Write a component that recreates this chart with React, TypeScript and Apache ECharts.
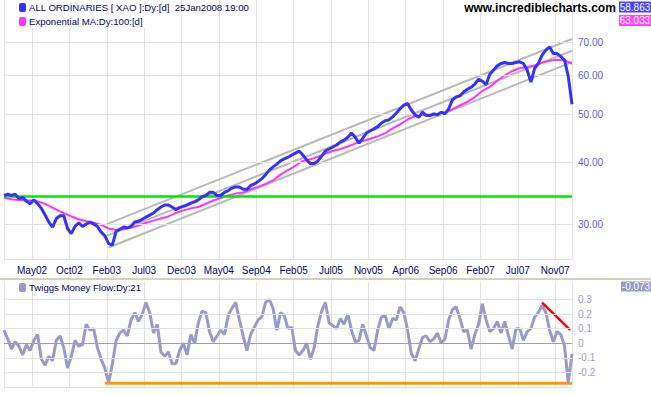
import React, { useEffect, useRef } from 'react';
import * as echarts from 'echarts';

// ---- axis / calendar (weekly trading-bar index) ----
const TICK_LABELS = ['May02', 'Oct02', 'Feb03', 'Jul03', 'Dec03', 'May04', 'Sep04', 'Feb05', 'Jul05', 'Nov05', 'Apr06', 'Sep06', 'Feb07', 'Jul07', 'Nov07'];
const WEEKS = 305;
const FIRST_TICK_WEEK = 15;
const TICK_STEP_WEEKS = 20;

// ---- ALL ORDINARIES (x1000), one value every 2 weeks ----
const PRICE_STEP = 2;
const PRICE = [
  34.3, 34.5, 34.3, 34.5, 33.8, 34.0, 33.4, 33.0, 33.6, 33.0,
  32.3, 31.3, 30.3, 29.6, 30.8, 31.2, 31.2, 29.4, 28.7, 29.7,
  30.2, 29.7, 30.0, 30.3, 30.0, 29.7, 28.9, 28.4, 27.4, 27.2,
  29.0, 29.3, 29.6, 29.5, 29.7, 30.3, 30.4, 30.7, 31.0, 31.3,
  31.6, 32.1, 32.5, 32.8, 32.8, 32.5, 32.1, 32.4, 32.6, 32.8,
  33.1, 33.3, 33.6, 34.1, 34.3, 34.8, 34.8, 34.3, 34.3, 34.8,
  35.1, 35.5, 35.7, 35.7, 35.3, 35.3, 35.9, 36.2, 36.6, 37.1,
  37.8, 38.6, 39.2, 39.7, 40.3, 40.7, 41.0, 41.4, 41.8, 42.2,
  41.4, 40.5, 39.8, 39.8, 40.3, 41.2, 42.2, 42.6, 43.0, 43.4,
  44.0, 44.4, 45.0, 45.9, 45.0, 43.8, 44.8, 45.9, 46.4, 46.8,
  47.3, 48.1, 48.6, 48.8, 49.5, 50.4, 51.4, 52.3, 52.7, 51.1,
  50.0, 49.4, 50.6, 49.8, 49.8, 50.2, 50.0, 50.6, 50.2, 51.4,
  53.6, 54.3, 54.6, 55.6, 56.3, 56.8, 57.7, 59.0, 58.5, 57.5,
  60.4, 61.6, 62.8, 63.5, 63.8, 63.5, 63.5, 63.8, 64.0, 63.5,
  61.6, 58.2, 62.1, 63.5, 66.0, 67.6, 68.6, 66.5, 66.5, 65.6,
  64.5, 59.8, 52.5,
];

// ---- Exponential MA 100, one value every 4 weeks ----
const MA_STEP = 4;
const MA100 = [
  33.9, 33.7, 33.6, 33.5, 33.5, 33.2, 32.7, 32.1, 31.6, 31.1,
  30.7, 30.4, 30.2, 29.9, 29.4, 29.2, 29.3, 29.5, 29.8, 30.2,
  30.5, 30.8, 31.1, 31.6, 32.0, 32.3, 32.5, 33.0, 33.5, 33.9,
  34.3, 34.6, 34.8, 35.3, 35.7, 36.2, 36.8, 37.8, 38.6, 39.4,
  40.3, 40.6, 41.1, 41.7, 42.2, 42.6, 43.1, 43.7, 44.2, 44.7,
  45.2, 45.9, 46.9, 47.8, 48.9, 49.7, 50.0, 50.0, 50.0, 50.6,
  51.3, 52.2, 53.1, 54.3, 55.9, 56.9, 58.6, 60.1, 61.3, 62.1,
  62.5, 62.9, 63.7, 64.3, 64.6, 64.4, 63.5,
];

// ---- Twiggs Money Flow 21, one value every 2 weeks ----
const TMF_STEP = 2;
const TMF = [
  0.09, 0.03, -0.04, 0.01, -0.02, -0.08, -0.01, -0.05, 0.02, 0.06,
  -0.11, -0.15, -0.09, -0.12, 0.02, 0.05, -0.03, -0.17, -0.09, 0.02,
  -0.02, -0.01, 0.13, 0.09, 0.10, -0.03, -0.11, -0.17, -0.27, -0.14,
  0.02, 0.07, 0.09, 0.05, 0.16, 0.21, 0.15, 0.20, 0.28, 0.21,
  0.07, 0.13, -0.06, -0.09, -0.06, -0.14, -0.14, -0.05, 0.00, -0.08,
  0.06, 0.00, 0.14, 0.22, 0.21, 0.08, 0.01, 0.05, 0.09, 0.06,
  0.19, 0.24, 0.28, 0.16, 0.05, -0.05, 0.06, 0.11, 0.16, 0.18,
  0.28, 0.30, 0.24, 0.09, 0.21, 0.19, 0.10, 0.11, -0.05, -0.08,
  -0.05, 0.00, -0.11, -0.03, 0.12, 0.22, 0.28, 0.14, 0.12, 0.10,
  0.17, 0.13, 0.20, 0.09, 0.01, 0.02, 0.13, 0.05, -0.03, -0.05,
  0.09, 0.18, 0.19, 0.10, 0.17, 0.16, 0.25, 0.21, 0.09, -0.07,
  -0.12, -0.04, 0.04, 0.05, 0.01, 0.03, 0.07, 0.00, 0.03, 0.16,
  0.23, 0.25, 0.17, 0.08, 0.09, -0.04, 0.06, 0.13, 0.27, 0.16,
  0.08, 0.10, 0.15, 0.07, 0.15, 0.05, -0.04, 0.10, 0.10, 0.02,
  0.08, 0.10, 0.18, 0.21, 0.26, 0.21, 0.09, 0.01, 0.08, 0.06,
  -0.02, -0.27, -0.073,
];

// ---- levels and drawn trend lines: [week, value] ----
const PRICE_LEVELS = [30, 40, 50, 60, 70];
const SUPPORT_LEVEL = 34.2;
const CHANNEL_UPPER = [[55, 30.0], [304, 71.2]];
const CHANNEL_MIDDLE = [[55, 28.4], [304, 67.4]];
const CHANNEL_LOWER = [[56, 26.9], [304, 63.9]];
const TMF_LEVELS = [0.3, 0.2, 0.1, -0.1, -0.2];
const TMF_SUPPORT = [[54, -0.275], [304, -0.275]];
const TMF_DIVERGENCE = [[288, 0.278], [303, 0.092]];

const LAST_PRICE = '58.863';
const LAST_MA = '63.033';
const LAST_TMF = '-0.073';

const FONT = '"Liberation Sans", Arial, sans-serif';
const GRID_COLOR = '#e2e2e2';

const isTick = (w: number) => w >= FIRST_TICK_WEEK && (w - FIRST_TICK_WEEK) % TICK_STEP_WEEKS === 0;
const isGrid = (w: number) => w === 0 || w === WEEKS - 1 || isTick(w);
const CATEGORIES = Array.from({ length: WEEKS }, (_, w) =>
  isTick(w) ? TICK_LABELS[(w - FIRST_TICK_WEEK) / TICK_STEP_WEEKS] : String(w)
);

function buildOption(): any {
  const xBase = {
    type: 'category',
    data: CATEGORIES,
    boundaryGap: false,
    axisLine: { show: true, onZero: false, lineStyle: { color: GRID_COLOR, width: 1 } },
    axisTick: { show: false },
    splitLine: { show: true, interval: (i: number) => isGrid(i), lineStyle: { color: GRID_COLOR, width: 1 } },
  };
  const lineBase = { type: 'line', symbol: 'none', silent: true, animation: false };
  const legendFont = `9.6px ${FONT}`;
  return {
    animation: false,
    grid: [
      { left: 4, top: 0, width: 568, height: 259 },
      { left: 4, top: 282, width: 568, height: 105 },
    ],
    xAxis: [
      {
        ...xBase,
        gridIndex: 0,
        axisLabel: { interval: (i: number) => isTick(i), color: '#000080', fontSize: 10, fontFamily: FONT, margin: 6 },
      },
      { ...xBase, gridIndex: 1, axisLabel: { show: false } },
    ],
    yAxis: [
      { type: 'log', gridIndex: 0, min: 25.5, max: 85.4, show: false },
      { type: 'value', gridIndex: 1, min: -0.3, max: 0.42, show: false },
    ],
    graphic: [
      { type: 'rect', left: 0, top: 278, shape: { width: 651, height: 2 }, style: { fill: '#d3d0bc' }, silent: true },
      { type: 'rect', shape: { x: 17, y: 0, width: 135, height: 28 }, style: { fill: '#ffffff' }, z: 50 },
      { type: 'rect', shape: { x: 19, y: 3, width: 7, height: 9, r: 2 }, style: { fill: '#3333ff' }, z: 51 },
      { type: 'text', x: 29, y: 7.5, style: { text: 'ALL ORDINARIES [ XAO ]:Dy:[d]  25Jan2008 19:00', fill: '#000080', font: legendFont, verticalAlign: 'middle' }, z: 51 },
      { type: 'rect', shape: { x: 19, y: 17, width: 7, height: 9, r: 2 }, style: { fill: '#ff33ff' }, z: 51 },
      { type: 'text', x: 29, y: 21.5, style: { text: 'Exponential MA:Dy:100:[d]', fill: '#000080', font: legendFont, verticalAlign: 'middle' }, z: 51 },
      { type: 'text', x: 540, y: 8, style: { text: 'www.incrediblecharts.com', fill: '#000000', font: `bold 12px ${FONT}`, align: 'center', verticalAlign: 'middle' }, z: 51 },
      { type: 'rect', shape: { x: 619, y: 1.5, width: 32, height: 11 }, style: { fill: '#4444ff' }, z: 51 },
      { type: 'text', x: 635, y: 7, style: { text: LAST_PRICE, fill: '#ffffff', font: `10px ${FONT}`, align: 'center', verticalAlign: 'middle' }, z: 52 },
      { type: 'rect', shape: { x: 619, y: 15, width: 32, height: 11 }, style: { fill: '#ff44ff' }, z: 51 },
      { type: 'text', x: 635, y: 20.5, style: { text: LAST_MA, fill: '#ffffff', font: `10px ${FONT}`, align: 'center', verticalAlign: 'middle' }, z: 52 },
      { type: 'rect', shape: { x: 19, y: 283, width: 7, height: 9, r: 2 }, style: { fill: '#9999cc' }, z: 51 },
      { type: 'text', x: 29, y: 287.5, style: { text: 'Twiggs Money Flow:Dy:21', fill: '#000080', font: legendFont, verticalAlign: 'middle' }, z: 51 },
      { type: 'rect', shape: { x: 621, y: 281.5, width: 30, height: 10 }, style: { fill: '#9999cc' }, z: 51 },
      { type: 'text', x: 636, y: 286.5, style: { text: LAST_TMF, fill: '#ffffff', font: `10px ${FONT}`, align: 'center', verticalAlign: 'middle' }, z: 52 },
    ],
    series: [
      {
        ...lineBase, name: 'priceGrid', xAxisIndex: 0, yAxisIndex: 0, data: [], z: 1,
        markLine: {
          silent: true, symbol: 'none', animation: false,
          lineStyle: { color: GRID_COLOR, width: 1, type: 'solid' },
          label: { position: 'end', distance: 6, formatter: (p: any) => Number(p.value).toFixed(2), color: '#5c5cf2', fontSize: 10, fontFamily: FONT },
          emphasis: { disabled: true },
          data: PRICE_LEVELS.map((v) => ({ yAxis: v })),
        },
      },
      {
        ...lineBase, name: 'support', xAxisIndex: 0, yAxisIndex: 0, data: [], z: 2,
        markLine: {
          silent: true, symbol: 'none', animation: false,
          lineStyle: { color: '#00e600', width: 2.5, type: 'solid' },
          label: { show: false },
          emphasis: { disabled: true },
          data: [{ yAxis: SUPPORT_LEVEL }],
        },
      },
      ...[CHANNEL_UPPER, CHANNEL_MIDDLE, CHANNEL_LOWER].map((d) => ({
        ...lineBase, xAxisIndex: 0, yAxisIndex: 0, data: d, z: 3,
        lineStyle: { color: '#b9b9b9', width: 2 },
      })),
      {
        ...lineBase, name: 'EMA100', xAxisIndex: 0, yAxisIndex: 0, z: 4,
        data: MA100.map((v, k) => [k * MA_STEP, v]),
        lineStyle: { color: '#ff33ff', width: 2 },
      },
      {
        ...lineBase, name: 'XAO', xAxisIndex: 0, yAxisIndex: 0, z: 5,
        data: PRICE.map((v, k) => [k * PRICE_STEP, v]),
        lineStyle: { color: '#3333ff', width: 3 },
      },
      {
        ...lineBase, name: 'tmfGrid', xAxisIndex: 1, yAxisIndex: 1, data: [], z: 1,
        markLine: {
          silent: true, symbol: 'none', animation: false,
          label: { position: 'end', distance: 6, formatter: (p: any) => String(p.value), color: '#9c9cdc', fontSize: 10, fontFamily: FONT },
          emphasis: { disabled: true },
          data: [
            ...TMF_LEVELS.map((v) => ({ yAxis: v, lineStyle: { color: GRID_COLOR, width: 1, type: 'solid' } })),
            { yAxis: 0, lineStyle: { color: '#9a9acb', width: 1, type: 'solid' } },
          ],
        },
      },
      {
        ...lineBase, name: 'tmfSupport', xAxisIndex: 1, yAxisIndex: 1, z: 2, data: TMF_SUPPORT,
        lineStyle: { color: '#ff9900', width: 3 },
      },
      {
        ...lineBase, name: 'TMF', xAxisIndex: 1, yAxisIndex: 1, z: 3,
        data: TMF.map((v, k) => [k * TMF_STEP, v]),
        lineStyle: { color: '#9999cc', width: 3 },
      },
      {
        ...lineBase, name: 'tmfDivergence', xAxisIndex: 1, yAxisIndex: 1, z: 4, data: TMF_DIVERGENCE,
        lineStyle: { color: '#ff0000', width: 2.5 },
      },
    ],
  };
}

export default function App() {
  const ref = useRef<HTMLDivElement>(null);
  useEffect(() => {
    document.body.style.margin = '0';
    if (!ref.current) return;
    const chart = echarts.init(ref.current, undefined, { renderer: 'svg' });
    chart.setOption(buildOption());
    return () => chart.dispose();
  }, []);
  return <div ref={ref} style={{ width: 651, height: 395, background: '#ffffff' }} />;
}
